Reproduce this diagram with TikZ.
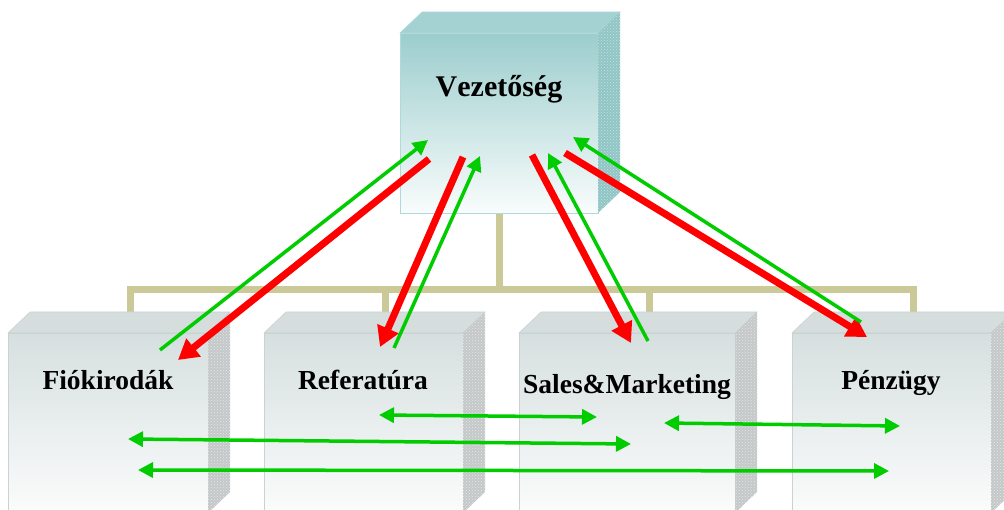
\documentclass[tikz,border=0pt]{standalone}
\usepackage{fontspec}
\setmainfont{Liberation Serif}
\usetikzlibrary{arrows.meta,calc,patterns}

\definecolor{treeline}{HTML}{CBC997}
\definecolor{flowgreen}{HTML}{00CC00}
\definecolor{flowred}{HTML}{FF0000}
% head office cube
\definecolor{tealtop}{HTML}{9CCDCD}
\definecolor{tealbot}{HTML}{F9FCFC}
\definecolor{tealedge}{HTML}{B2D9D9}
\definecolor{tealroof}{HTML}{A4D2D2}
\definecolor{tealside}{HTML}{91C5C5}
\definecolor{tealdots}{HTML}{C4E3E3}
% department cubes
\definecolor{greytop}{HTML}{D6DFDF}
\definecolor{greybot}{HTML}{FBFCFC}
\definecolor{greyedge}{HTML}{C9D3D3}
\definecolor{greyroof}{HTML}{D5DDDD}
\definecolor{greyside}{HTML}{C4C8C8}
\definecolor{greydots}{HTML}{E4E8E8}

\pgfdeclarelayer{behind}
\pgfsetlayers{behind,main}

% roof and right side of a cube whose front face is node #1
\newcommand\cubefaces[3]{%
  \path[#2] (#1.north west) -- ++(22,-21) -- ($(#1.north east)+(22,-21)$)
        -- (#1.north east) -- cycle;
  \path[#3] (#1.north east) -- ++(22,-21) -- ($(#1.south east)+(22,-21)$)
        -- (#1.south east) -- cycle;
}

\begin{document}
\begin{tikzpicture}[x=1pt,y=-1pt,
  front/.style={rectangle,inner sep=0pt,outer sep=0pt,minimum height=180pt},
  headfront/.style={front,draw=tealedge,line width=0.8pt,top color=tealtop,bottom color=tealbot},
  deptfront/.style={front,draw=greyedge,line width=0.8pt,top color=greytop,bottom color=greybot},
  headroof/.style={fill=tealroof,draw=tealedge,line width=0.6pt},
  headside/.style={fill=tealside,postaction={pattern=crosshatch dots,pattern color=tealdots}},
  deptroof/.style={fill=greyroof,draw=greyedge,line width=0.6pt},
  deptside/.style={fill=greyside,postaction={pattern=crosshatch dots,pattern color=greydots}},
  label/.style={inner sep=0pt,anchor=base,font=\bfseries\fontsize{27.5}{30}\selectfont},
  tree/.style={draw=treeline,line width=7pt,line join=miter},
  upflow/.style={draw=flowgreen,line width=3.5pt,-{Triangle[length=15pt,width=15pt]}},
  downflow/.style={draw=flowred,line width=7pt,-{Triangle[length=20pt,width=22pt]}},
  sideflow/.style={draw=flowgreen,line width=3.5pt,
    {Triangle[length=15pt,width=15pt]}-{Triangle[length=15pt,width=15pt]}}]

\useasboundingbox (0,0) rectangle (1004,510);
\clip (0,0) rectangle (1004,510);

% cubes: front faces as nodes, roof and side added afterwards
\node[headfront,minimum width=198pt] (vez) at (499,123) {};
\node[deptfront,minimum width=200pt] (fiok) at (108,423) {};
\node[deptfront,minimum width=199pt] (ref) at (363.5,423) {};
\node[deptfront,minimum width=216pt] (sales) at (627,423) {};
\node[deptfront,minimum width=199pt] (penz) at (891.5,423) {};
\cubefaces{vez}{headroof}{headside}
\cubefaces{fiok}{deptroof}{deptside}
\cubefaces{ref}{deptroof}{deptside}
\cubefaces{sales}{deptroof}{deptside}
\cubefaces{penz}{deptroof}{deptside}

% organisation tree, kept behind the cubes
\coordinate (bus) at (499.5,289.5);
\coordinate (fiok-top) at ($(fiok.north)+(22,-21)$);
\coordinate (ref-top) at ($(ref.north)+(22,-21)$);
\coordinate (sales-top) at ($(sales.north)+(22,-21)$);
\coordinate (penz-top) at ($(penz.north)+(22,-21)$);
\begin{pgfonlayer}{behind}
\draw[tree] (vez.south -| bus) -- (bus);
\draw[tree] (fiok-top) -- (fiok-top |- bus) -- (penz-top |- bus) -- (penz-top);
\draw[tree] (ref-top |- bus) -- (ref-top);
\draw[tree] (sales-top |- bus) -- (sales-top);
\end{pgfonlayer}

% labels
\node[label,font=\bfseries\fontsize{30}{32}\selectfont\addfontfeatures{Kerning=Off}]
  (vez-l) at (499,97) {Vezetőség};
\node[label] (fiok-l) at (108,390) {Fiókirodák};
\node[label] (ref-l) at (363,390) {Referatúra};
\node[label] (sales-l) at (627,394) {Sales\&Marketing};
\node[label] (penz-l) at (891,390) {Pénzügy};

% arrow end points
\coordinate (g1s) at (160,350); \coordinate (g1e) at (428,140);
\coordinate (r1s) at (429,159); \coordinate (r1e) at (178,360);
\coordinate (r2s) at (463,157); \coordinate (r2e) at (380,347);
\coordinate (g2s) at (394,348); \coordinate (g2e) at (480,156);
\coordinate (r3s) at (532,155); \coordinate (r3e) at (631,343);
\coordinate (g3s) at (648,341); \coordinate (g3e) at (548,153);
\coordinate (r4s) at (565,153); \coordinate (r4e) at (867,337);
\coordinate (g4s) at (861,322); \coordinate (g4e) at (573,137);
\coordinate (h1a) at (379,415); \coordinate (h1b) at (597,417);
\coordinate (h2a) at (128,439); \coordinate (h2b) at (631,444);
\coordinate (h3a) at (138,470); \coordinate (h3b) at (889,471);
\coordinate (h4a) at (664,423); \coordinate (h4b) at (900,426);

% reporting lines between head office and departments
\draw[upflow] (g1s) -- (g1e);
\draw[downflow] (r1s) -- (r1e);
\draw[downflow] (r2s) -- (r2e);
\draw[upflow] (g2s) -- (g2e);
\draw[downflow] (r3s) -- (r3e);
\draw[upflow] (g3s) -- (g3e);
\draw[downflow] (r4s) -- (r4e);
\draw[upflow] (g4s) -- (g4e);

% links between departments
\draw[sideflow] (h1a) -- (h1b);
\draw[sideflow] (h2a) -- (h2b);
\draw[sideflow] (h3a) -- (h3b);
\draw[sideflow] (h4a) -- (h4b);
\end{tikzpicture}
\end{document}
